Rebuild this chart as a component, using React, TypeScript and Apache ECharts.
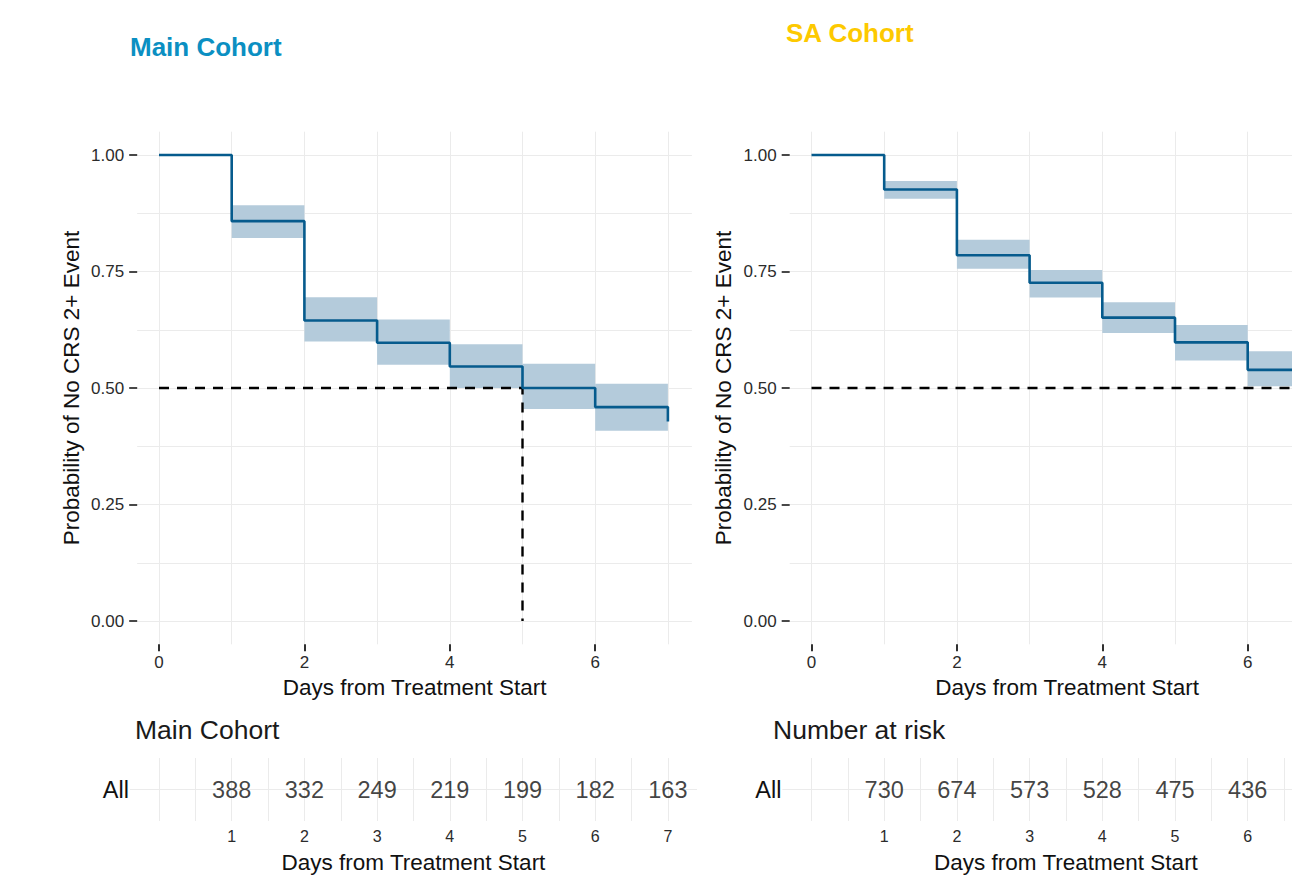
import React, { useEffect, useRef } from "react";
import * as echarts from "echarts";

// ---------- data ----------
const days = [0, 1, 2, 3, 4, 5, 6, 7];
const mainSurv = [1.0, 0.858, 0.645, 0.597, 0.546, 0.5, 0.459, 0.428];
const mainBandStart = [1, 2, 3, 4, 5, 6];
const mainLower = [0.822, 0.6, 0.55, 0.5, 0.455, 0.408];
const mainUpper = [0.892, 0.695, 0.647, 0.594, 0.552, 0.509];
const mainMedian = 5;

const saSurv = [1.0, 0.926, 0.785, 0.726, 0.651, 0.598, 0.539, 0.539];
const saBandStart = [1, 2, 3, 4, 5, 6];
const saLower = [0.906, 0.756, 0.694, 0.618, 0.559, 0.504];
const saUpper = [0.944, 0.818, 0.753, 0.684, 0.635, 0.579];

const mainRiskDays = [1, 2, 3, 4, 5, 6, 7];
const mainRisk = [388, 332, 249, 219, 199, 182, 163];
const saRiskDays = [1, 2, 3, 4, 5, 6];
const saRisk = [730, 674, 573, 528, 475, 436];

const xTickLabels = [0, 2, 4, 6];
const xGridDays = [0, 1, 2, 3, 4, 5, 6, 7];
const yTickLabels = [0, 0.25, 0.5, 0.75, 1];
const yGridVals = [0, 0.125, 0.25, 0.375, 0.5, 0.625, 0.75, 0.875, 1];
const riskGridDays = [0, 0.5, 1, 1.5, 2, 2.5, 3, 3.5, 4, 4.5, 5, 5.5, 6, 6.5, 7];
const mainRiskLabelDays = [1, 2, 3, 4, 5, 6, 7];
const saRiskLabelDays = [1, 2, 3, 4, 5, 6];

// ---------- style ----------
const FONT = "'Liberation Sans', Arial, Helvetica, sans-serif";
const GRID = "#ebebeb";
const LINE = "#065b8d";
const BAND = "#b4cbdb";
const TICK = "#2b2b2b";
const TITLE = "#111111";

function plotAxes(grid: number) {
  const xBase = {
    gridIndex: grid,
    type: "value",
    min: -0.3,
    max: 7.33,
    position: "bottom",
    axisLine: { show: false, onZero: false },
  };
  const yBase = {
    gridIndex: grid,
    type: "value",
    min: -0.05,
    max: 1.05,
    position: "left",
    axisLine: { show: false, onZero: false },
  };
  const x = [
    {
      ...xBase,
      axisTick: { show: false, customValues: xGridDays },
      axisLabel: { show: false },
      splitLine: { show: true, lineStyle: { color: GRID, width: 1 } },
    },
    {
      ...xBase,
      axisTick: { show: true, customValues: xTickLabels, length: 7, inside: false, lineStyle: { color: "#1a1a1a", width: 1.8 } },
      axisLabel: { show: true, customValues: xTickLabels, margin: 8, fontSize: 17, color: TICK, lineHeight: 20, fontFamily: FONT },
      splitLine: { show: false },
      name: "Days from Treatment Start",
      nameLocation: "middle",
      nameGap: 30,
      nameMoveOverlap: false,
      nameTextStyle: { fontSize: 22.5, color: TITLE, lineHeight: 26, fontFamily: FONT },
    },
  ];
  const y = [
    {
      ...yBase,
      axisTick: { show: false, customValues: yGridVals },
      axisLabel: { show: false },
      splitLine: { show: true, lineStyle: { color: GRID, width: 1 } },
    },
    {
      ...yBase,
      axisTick: { show: true, customValues: yTickLabels, length: 8, inside: false, lineStyle: { color: "#1a1a1a", width: 1.6 } },
      axisLabel: {
        show: true,
        customValues: yTickLabels,
        formatter: (v: number) => Number(v).toFixed(2),
        margin: 13,
        fontSize: 17,
        color: TICK,
        fontFamily: FONT,
      },
      splitLine: { show: false },
      name: "Probability of No CRS 2+ Event",
      nameLocation: "middle",
      nameGap: 53,
      nameMoveOverlap: false,
      nameTextStyle: { fontSize: 22.5, color: TITLE, lineHeight: 26, fontFamily: FONT },
    },
  ];
  return { x, y };
}

function riskAxes(grid: number, labelDays: number[]) {
  return {
    x: {
      gridIndex: grid,
      type: "value",
      min: -0.4,
      max: 7.4,
      position: "bottom",
      axisLine: { show: false, onZero: false },
      axisTick: { show: false, customValues: riskGridDays },
      axisLabel: { show: true, customValues: labelDays, margin: 6, fontSize: 16, color: TICK, lineHeight: 18, fontFamily: FONT },
      splitLine: { show: true, lineStyle: { color: GRID, width: 1 } },
      name: "Days from Treatment Start",
      nameLocation: "middle",
      nameGap: 28,
      nameMoveOverlap: false,
      nameTextStyle: { fontSize: 22.5, color: TITLE, lineHeight: 26, fontFamily: FONT },
    },
    y: {
      gridIndex: grid,
      type: "value",
      min: 0,
      max: 2,
      position: "left",
      axisLine: { show: false, onZero: false },
      axisTick: { show: false, customValues: [1] },
      axisLabel: { show: true, customValues: [1], formatter: () => "All", margin: 1, fontSize: 23.5, color: "#111", fontFamily: FONT },
      splitLine: { show: true, lineStyle: { color: GRID, width: 1 } },
    },
  };
}

function bandData(starts: number[], lower: number[], upper: number[]) {
  return starts.map((s, i) => [s, s + 1, lower[i], upper[i]]);
}

function bandSeries(xi: number, yi: number, data: number[][]) {
  return {
    type: "custom",
    xAxisIndex: xi,
    yAxisIndex: yi,
    silent: true,
    z: 1,
    encode: { x: [0, 1], y: [2, 3] },
    data,
    renderItem: (_p: any, api: any) => {
      const a = api.coord([api.value(0), api.value(3)]);
      const b = api.coord([api.value(1), api.value(2)]);
      return {
        type: "rect",
        shape: { x: a[0], y: a[1], width: b[0] - a[0], height: b[1] - a[1] },
        style: { fill: BAND },
      };
    },
  };
}

function stepSeries(xi: number, yi: number, ys: number[]) {
  return {
    type: "line",
    xAxisIndex: xi,
    yAxisIndex: yi,
    step: "end",
    symbol: "none",
    silent: true,
    z: 4,
    lineStyle: { color: LINE, width: 2.6 },
    data: days.map((d, i) => [d, ys[i]]),
  };
}

function dashSeries(xi: number, yi: number, pts: number[][]) {
  return {
    type: "line",
    xAxisIndex: xi,
    yAxisIndex: yi,
    symbol: "none",
    silent: true,
    z: 3,
    lineStyle: { color: "#000", width: 2.4, type: [10, 8] },
    data: pts,
  };
}

function riskSeries(xi: number, yi: number, ds: number[], vals: number[]) {
  return {
    type: "scatter",
    xAxisIndex: xi,
    yAxisIndex: yi,
    symbolSize: 1,
    silent: true,
    itemStyle: { color: "rgba(0,0,0,0)" },
    label: {
      show: true,
      position: "inside",
      formatter: (p: any) => String(p.value[2]),
      fontSize: 23.5,
      color: "#111",
      fontFamily: FONT,
    },
    data: ds.map((d, i) => [d, 1, vals[i]]),
  };
}

export default function App() {
  const ref = useRef<HTMLDivElement>(null);
  useEffect(() => {
    if (!ref.current) return;
    const chart = echarts.init(ref.current, null, { renderer: "svg" });
    const pl = plotAxes(0);
    const pr = plotAxes(1);
    const rl = riskAxes(2, mainRiskLabelDays);
    const rr = riskAxes(3, saRiskLabelDays);
    const pxPerDay = 72.7;
    const option: any = {
      animation: false,
      backgroundColor: "#ffffff",
      textStyle: { fontFamily: FONT },
      title: [
        { text: "Main Cohort", left: 130, top: 32, padding: 0, textStyle: { color: "#0b8fc2", fontSize: 26, fontWeight: "bold", lineHeight: 30, fontFamily: FONT } },
        { text: "SA Cohort", left: 786, top: 18, padding: 0, textStyle: { color: "#fdc900", fontSize: 26, fontWeight: "bold", lineHeight: 30, fontFamily: FONT } },
        { text: "Main Cohort", left: 135, top: 715, padding: 0, textStyle: { color: "#1a1a1a", fontSize: 26.5, fontWeight: "normal", lineHeight: 30, fontFamily: FONT } },
        { text: "Number at risk", left: 773, top: 715, padding: 0, textStyle: { color: "#1a1a1a", fontSize: 26.5, fontWeight: "normal", lineHeight: 30, fontFamily: FONT } },
      ],
      grid: [
        { left: 159 - 0.3 * pxPerDay, top: 131.7, width: 7.63 * pxPerDay, height: 512.6 },
        { left: 811.5 - 0.3 * pxPerDay, top: 131.7, width: 7.63 * pxPerDay, height: 512.6 },
        { left: 159 - 0.4 * pxPerDay, top: 758, width: 7.8 * pxPerDay, height: 63 },
        { left: 811.5 - 0.4 * pxPerDay, top: 758, width: 7.8 * pxPerDay, height: 63 },
      ],
      xAxis: [...pl.x, ...pr.x, rl.x, rr.x],
      yAxis: [...pl.y, ...pr.y, rl.y, rr.y],
      series: [
        bandSeries(0, 0, bandData(mainBandStart, mainLower, mainUpper)),
        dashSeries(0, 0, [[0, 0.5], [mainMedian, 0.5], [mainMedian, 0]]),
        stepSeries(0, 0, mainSurv),
        bandSeries(2, 2, bandData(saBandStart, saLower, saUpper)),
        dashSeries(2, 2, [[0, 0.5], [7.33, 0.5]]),
        stepSeries(2, 2, saSurv),
        riskSeries(4, 4, mainRiskDays, mainRisk),
        riskSeries(5, 5, saRiskDays, saRisk),
      ],
    };
    chart.setOption(option);
    return () => chart.dispose();
  }, []);
  return (
    <div style={{ position: "fixed", left: 0, top: 0, width: "100vw", height: "100vh", overflow: "hidden", background: "#fff" }}>
      <div ref={ref} style={{ width: 1400, height: 880 }} />
    </div>
  );
}
